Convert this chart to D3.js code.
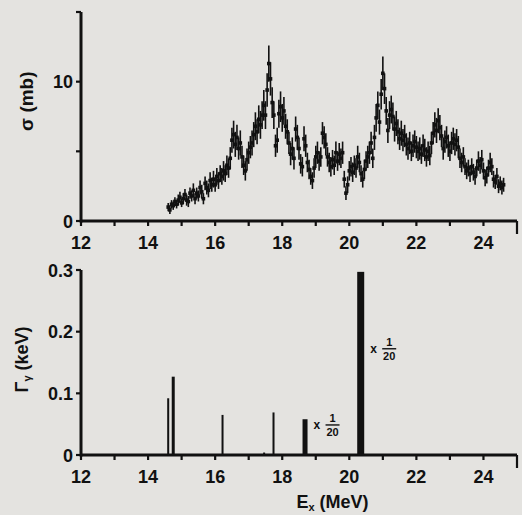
<!DOCTYPE html>
<html><head><meta charset="utf-8">
<script src="https://cdn.jsdelivr.net/npm/d3@7"></script>
<style>html,body{margin:0;padding:0;background:#e4e3e0;}svg{display:block;}</style>
</head><body>
<svg id="chart" width="522" height="515"></svg>
<script>
// ---- data ----
const energies = [14.60,14.65,14.70,14.75,14.80,14.85,14.90,14.95,15.00,15.05,15.10,15.15,15.20,15.25,15.30,15.35,15.40,15.45,15.50,15.55,15.60,15.65,15.70,15.75,15.80,15.85,15.90,15.95,16.00,16.05,16.10,16.15,16.20,16.25,16.30,16.35,16.40,16.45,16.50,16.55,16.60,16.65,16.70,16.75,16.80,16.85,16.90,16.95,17.00,17.05,17.10,17.15,17.20,17.25,17.30,17.35,17.40,17.45,17.50,17.55,17.60,17.65,17.70,17.75,17.80,17.85,17.90,17.95,18.00,18.05,18.10,18.15,18.20,18.25,18.30,18.35,18.40,18.45,18.50,18.55,18.60,18.65,18.70,18.75,18.80,18.85,18.90,18.95,19.00,19.05,19.10,19.15,19.20,19.25,19.30,19.35,19.40,19.45,19.50,19.55,19.60,19.65,19.70,19.75,19.80,19.85,19.90,19.95,20.00,20.05,20.10,20.15,20.20,20.25,20.30,20.35,20.40,20.45,20.50,20.55,20.60,20.65,20.70,20.75,20.80,20.85,20.90,20.95,21.00,21.05,21.10,21.15,21.20,21.25,21.30,21.35,21.40,21.45,21.50,21.55,21.60,21.65,21.70,21.75,21.80,21.85,21.90,21.95,22.00,22.05,22.10,22.15,22.20,22.25,22.30,22.35,22.40,22.45,22.50,22.55,22.60,22.65,22.70,22.75,22.80,22.85,22.90,22.95,23.00,23.05,23.10,23.15,23.20,23.25,23.30,23.35,23.40,23.45,23.50,23.55,23.60,23.65,23.70,23.75,23.80,23.85,23.90,23.95,24.00,24.05,24.10,24.15,24.20,24.25,24.30,24.35,24.40,24.45,24.50,24.55,24.60];
const sigma = [1.0,0.8,1.2,1.1,1.4,1.2,1.5,1.7,1.3,1.6,1.9,1.5,1.4,2.0,1.8,2.2,1.6,2.0,1.8,2.4,2.1,1.6,2.7,2.4,2.2,2.9,2.6,3.0,2.6,3.2,2.9,3.4,3.2,3.6,3.4,4.0,3.8,4.5,5.8,6.2,5.5,6.0,5.2,5.6,4.6,4.0,3.6,4.4,4.9,5.3,5.6,6.2,6.8,6.4,7.3,6.9,7.6,8.3,7.6,9.4,11.3,10.2,8.5,7.6,5.4,5.8,7.7,8.2,7.4,7.9,6.8,6.4,5.6,4.8,5.2,4.5,6.6,6.0,5.2,4.1,3.9,5.9,5.4,4.2,3.7,3.2,2.9,3.8,4.6,4.9,4.3,4.6,6.3,6.0,5.5,4.6,4.2,3.9,4.4,4.0,4.9,4.3,4.8,4.5,4.9,3.0,2.0,2.6,3.6,3.9,3.5,4.0,3.8,4.6,4.2,3.4,3.0,3.7,4.3,4.6,4.9,5.6,4.5,6.0,7.4,8.3,7.1,9.1,10.6,9.5,7.9,6.5,7.6,8.0,7.5,6.6,7.0,6.4,5.9,6.3,5.8,6.1,5.5,5.2,5.6,5.0,5.4,5.7,5.3,5.0,5.2,4.8,5.4,5.1,4.6,5.0,4.7,5.6,6.3,6.9,6.5,7.2,6.7,6.1,5.2,5.7,6.0,5.4,5.0,5.6,5.9,5.5,5.8,5.3,4.5,4.2,4.6,3.9,3.6,3.8,3.4,3.9,3.5,3.2,3.8,4.3,4.0,4.4,3.6,3.1,3.3,3.8,4.2,3.9,3.0,2.8,3.2,2.5,2.7,2.4,2.6];
const sigmaErr = [0.3,0.3,0.3,0.3,0.3,0.3,0.4,0.4,0.3,0.4,0.4,0.4,0.4,0.4,0.4,0.5,0.4,0.4,0.4,0.5,0.5,0.4,0.5,0.5,0.5,0.6,0.5,0.6,0.5,0.6,0.6,0.6,0.6,0.7,0.6,0.7,0.7,0.8,0.9,1.0,0.9,0.9,0.8,0.9,0.8,0.7,0.7,0.8,0.8,0.8,0.9,0.9,1.0,0.9,1.0,1.0,1.0,1.1,1.0,1.2,1.3,1.2,1.1,1.0,0.8,0.9,1.0,1.1,1.0,1.0,0.9,0.9,0.8,0.8,0.8,0.8,0.9,0.9,0.8,0.7,0.7,0.9,0.8,0.7,0.7,0.6,0.6,0.7,0.8,0.8,0.7,0.7,0.8,0.8,0.8,0.7,0.7,0.7,0.7,0.7,0.8,0.7,0.8,0.7,0.8,0.6,0.5,0.6,0.7,0.7,0.7,0.7,0.7,0.8,0.7,0.6,0.6,0.7,0.7,0.8,0.8,0.8,0.7,0.9,1.0,1.0,0.9,1.1,1.2,1.1,1.0,0.9,1.0,1.0,1.0,0.9,0.9,0.9,0.8,0.9,0.8,0.8,0.8,0.8,0.8,0.7,0.8,0.8,0.8,0.7,0.8,0.7,0.8,0.8,0.7,0.7,0.7,0.8,0.8,0.9,0.9,0.9,0.9,0.8,0.8,0.8,0.8,0.8,0.7,0.8,0.8,0.8,0.8,0.8,0.7,0.7,0.7,0.6,0.6,0.6,0.6,0.6,0.6,0.6,0.6,0.7,0.6,0.7,0.6,0.6,0.6,0.6,0.7,0.6,0.6,0.5,0.6,0.5,0.5,0.5,0.5];

const levelE     = [14.60, 14.75, 16.22, 17.46, 17.74, 18.68, 20.34];
const levelGamma = [0.092, 0.127, 0.065, 0.004, 0.069, 0.058, 0.297];
const levelThick = [2, 3, 2, 2, 2, 5, 7];
const levelScaled = [false, false, false, false, false, true, true];

const xTicks = [12,13,14,15,16,17,18,19,20,21,22,23,24,25];
const xTickLabels = [12,14,16,18,20,22,24];
const sigmaTicks = [0,5,10,15];
const sigmaTickLabels = [0,10];
const gammaTicks = [0,0.1,0.2,0.3];
const gammaTickLabels = ["0","0.1","0.2","0.3"];

// ---- drawing ----
const svg = d3.select("#chart");
const FONT = "'Liberation Sans', Arial, sans-serif";
const ink = "#111";

const x = d3.scaleLinear().domain([12,25]).range([81,517]);
const yTop = d3.scaleLinear().domain([0,15]).range([221,12]);
const yBot = d3.scaleLinear().domain([0,0.3]).range([455,270]);

function drawAxes(y, yTicks, yLabelMap) {
  const g = svg.append("g");
  g.append("line").attr("x1", x(12)).attr("x2", x(25)).attr("y1", y(0)).attr("y2", y(0))
    .attr("stroke", ink).attr("stroke-width", 3);
  g.selectAll(null).data(xTicks).enter().append("line")
    .attr("x1", d => x(d)).attr("x2", d => x(d))
    .attr("y1", y(0)).attr("y2", d => y(0) + (d === 25 ? 13 : 5))
    .attr("stroke", ink).attr("stroke-width", 2.2);
  g.selectAll(null).data(xTickLabels).enter().append("text")
    .attr("x", d => x(d)).attr("y", y(0) + 28)
    .attr("text-anchor", "middle").attr("font-family", FONT).attr("font-weight", "bold")
    .attr("font-size", 18).attr("fill", ink).text(d => d);
  const yDom = y.domain();
  g.append("line").attr("x1", x(12)).attr("x2", x(12)).attr("y1", y(yDom[0]) + 1.5).attr("y2", y(yDom[1]))
    .attr("stroke", ink).attr("stroke-width", 3);
  g.selectAll(null).data(yTicks).enter().append("line")
    .attr("x1", x(12) - 5).attr("x2", x(12))
    .attr("y1", d => y(d)).attr("y2", d => y(d))
    .attr("stroke", ink).attr("stroke-width", 2.2);
  g.selectAll(null).data(yLabelMap).enter().append("text")
    .attr("x", x(12) - 8).attr("y", d => y(d.v) + 6.5)
    .attr("text-anchor", "end").attr("font-family", FONT).attr("font-weight", "bold")
    .attr("font-size", 18).attr("fill", ink).text(d => d.t);
}

drawAxes(yTop, sigmaTicks, sigmaTickLabels.map(v => ({v, t: String(v)})));
drawAxes(yBot, gammaTicks, gammaTicks.map((v,i) => ({v, t: gammaTickLabels[i]})));

// top data: error bars + points
const pts = energies.map((e,i) => ({e, s: sigma[i], err: sigmaErr[i]}));
const gp = svg.append("g");
gp.selectAll(null).data(pts).enter().append("line")
  .attr("x1", d => x(d.e)).attr("x2", d => x(d.e))
  .attr("y1", d => yTop(d.s - d.err)).attr("y2", d => yTop(d.s + d.err))
  .attr("stroke", ink).attr("stroke-width", 1.6);
gp.selectAll(null).data(pts).enter().append("rect")
  .attr("x", d => x(d.e) - 1.8).attr("y", d => yTop(d.s) - 1.8)
  .attr("width", 3.6).attr("height", 3.6).attr("fill", ink);

// bottom bars
const lv = levelE.map((e,i) => ({e, g: levelGamma[i], w: levelThick[i], sc: levelScaled[i]}));
svg.append("g").selectAll(null).data(lv).enter().append("rect")
  .attr("x", d => x(d.e) - d.w/2).attr("width", d => d.w)
  .attr("y", d => yBot(d.g)).attr("height", d => yBot(0) - yBot(d.g))
  .attr("fill", ink);

// "x 1/20" annotations
function frac(xp, yp) {
  const g = svg.append("g").attr("font-family", FONT).attr("font-weight", "bold").attr("fill", ink);
  g.append("text").attr("x", xp).attr("y", yp + 4).attr("font-size", 12).text("x");
  g.append("text").attr("x", xp + 19).attr("y", yp - 3).attr("text-anchor", "middle").attr("font-size", 11).text("1");
  g.append("line").attr("x1", xp + 12).attr("x2", xp + 26).attr("y1", yp).attr("y2", yp)
    .attr("stroke", ink).attr("stroke-width", 1.4);
  g.append("text").attr("x", xp + 19).attr("y", yp + 11).attr("text-anchor", "middle").attr("font-size", 11).text("20");
}
lv.filter(d => d.sc).forEach(d => frac(x(d.e) + d.w/2 + 6, yBot(d.g < 0.1 ? d.g * 0.84 : d.g * 0.58)));

// axis titles
svg.append("text").attr("transform", `translate(33,${yTop(8.6)}) rotate(-90)`)
  .attr("text-anchor", "middle").attr("font-family", FONT).attr("font-weight", "bold")
  .attr("font-size", 19).attr("fill", ink).text("σ (mb)");
const tg = svg.append("text").attr("transform", `translate(28,${yBot(0.155)}) rotate(-90)`)
  .attr("text-anchor", "middle").attr("font-family", FONT).attr("font-weight", "bold")
  .attr("font-size", 18).attr("fill", ink);
tg.append("tspan").text("Γ");
tg.append("tspan").attr("font-size", 11).attr("dy", 3).text("γ");
tg.append("tspan").attr("dy", -3).text(" (keV)");
const xt = svg.append("text").attr("x", x(19.5)).attr("y", 508)
  .attr("text-anchor", "middle").attr("font-family", FONT).attr("font-weight", "bold")
  .attr("font-size", 18).attr("fill", ink);
xt.append("tspan").text("E");
xt.append("tspan").attr("font-size", 11).attr("dy", 3).text("x");
xt.append("tspan").attr("dy", -3).text(" (MeV)");
</script>
</body></html>
